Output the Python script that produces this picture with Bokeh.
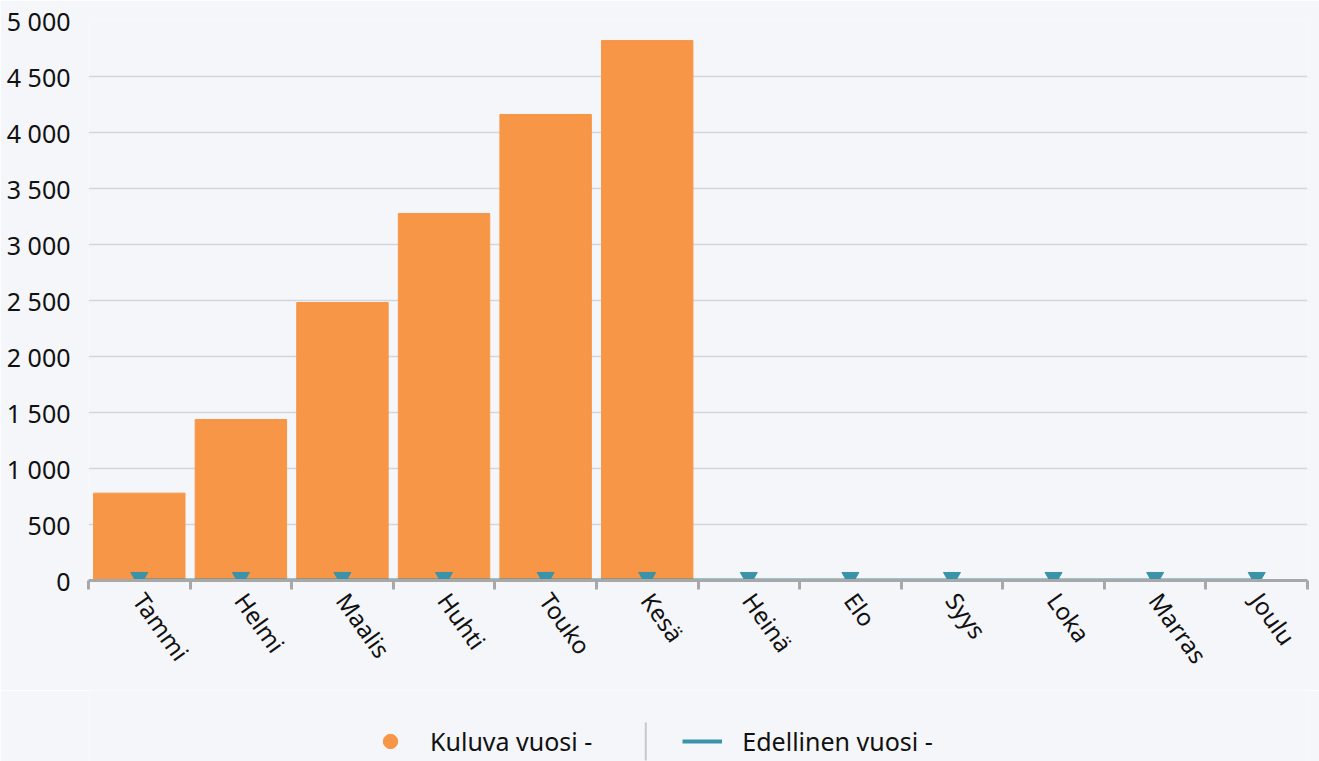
from bokeh.plotting import figure
from bokeh.layouts import column
from bokeh.models import FixedTicker, ColumnDataSource, Legend, LegendItem
from bokeh.transform import dodge
from bokeh.embed import file_html
from bokeh.resources import INLINE

months = ["Tammi", "Helmi", "Maalis", "Huhti", "Touko", "Kesä", "Heinä", "Elo", "Syys", "Loka", "Marras", "Joulu"]
current_year = [780, 1437, 2482, 3277, 4161, 4821]
previous_year = [0, 0, 0, 0, 0, 0, 0, 0, 0, 0, 0, 0]
y_ticks = [0, 500, 1000, 1500, 2000, 2500, 3000, 3500, 4000, 4500, 5000]
series_names = ["Kuluva vuosi -", "Edellinen vuosi -"]

ORANGE = "#f79646"
TEAL = "#3a93a8"
BG = "#f5f6fa"
FONT = "Noto Sans"

centers = [i + 0.5 for i in range(len(months))]

p = figure(frame_width=1219, frame_height=560, output_backend="svg", toolbar_location=None,
           x_range=(0, 12), y_range=(0, 5000),
           min_border_left=88, min_border_right=12, min_border_top=20, min_border_bottom=110)
p.background_fill_color = BG
p.border_fill_color = BG
p.outline_line_color = None

src_bar = ColumnDataSource(dict(x=centers[:len(current_year)], top=current_year))
bars = p.vbar(x="x", top="top", bottom=0, width=0.9, source=src_bar, color=ORANGE)

src_prev = ColumnDataSource(dict(x=centers, y=previous_year))
ln = p.line("x", "y", source=src_prev, line_color=TEAL, line_width=4)
mk = p.scatter("x", dodge("y", 28), source=src_prev, marker="inverted_triangle", size=17,
               fill_color=TEAL, line_color=TEAL)

# axes
xa = p.xaxis[0]
xa.ticker = FixedTicker(ticks=centers, minor_ticks=list(range(13)))
xa.major_label_overrides = {c: m for c, m in zip(centers, months)}
xa.major_label_orientation = -0.95
xa.major_tick_line_color = None
xa.minor_tick_out = 9
xa.minor_tick_in = 0
xa.minor_tick_line_color = "#a8a8a8"
xa.minor_tick_line_width = 3
xa.axis_line_color = "#a8a8a8"
xa.axis_line_width = 3
xa.major_label_text_font = FONT
xa.major_label_text_font_size = "24px"
xa.major_label_text_color = "#111111"
xa.major_label_standoff = 6

ya = p.yaxis[0]
ya.ticker = FixedTicker(ticks=y_ticks)
ya.major_label_overrides = {t: f"{t:,}".replace(",", " ") for t in y_ticks}
ya.axis_line_color = None
ya.major_tick_line_color = None
ya.minor_tick_line_color = None
ya.major_label_text_font = FONT
ya.major_label_text_font_size = "25px"
ya.major_label_text_color = "#111111"
ya.major_label_standoff = 12

p.xgrid.grid_line_color = None
p.ygrid.grid_line_color = "#d3d5dc"
p.ygrid.grid_line_width = 1.5

# legend strip below the chart
lg = figure(width=1319, height=71, output_backend="svg", toolbar_location=None,
            x_range=(0, 1319), y_range=(0, 71), x_axis_location=None, y_axis_location=None,
            min_border=0)
lg.background_fill_color = BG
lg.border_fill_color = BG
lg.outline_line_color = None
lg.xgrid.grid_line_color = None
lg.ygrid.grid_line_color = None

r_circle = lg.scatter([float("nan")], [float("nan")], marker="circle", size=22,
                      fill_color=ORANGE, line_color=ORANGE)
r_line = lg.line([float("nan")], [float("nan")], line_color=TEAL, line_width=4)
# separator between legend items
lg.segment(x0=[603], y0=[1], x1=[603], y1=[39], line_color="#c8c8c8", line_width=2)

legend = Legend(items=[LegendItem(label=series_names[0], renderers=[r_circle]),
                       LegendItem(label=series_names[1], renderers=[r_line])],
                orientation="horizontal", location=(282, 2),
                label_text_font=FONT, label_text_font_size="25px", label_text_color="#111111",
                background_fill_alpha=0, border_line_color=None,
                glyph_width=40, glyph_height=36, spacing=90, label_standoff=20,
                margin=0, padding=0)
lg.add_layout(legend, "center")

layout = column(p, lg, spacing=0)

open("out.html", "w").write(file_html(layout, INLINE))
